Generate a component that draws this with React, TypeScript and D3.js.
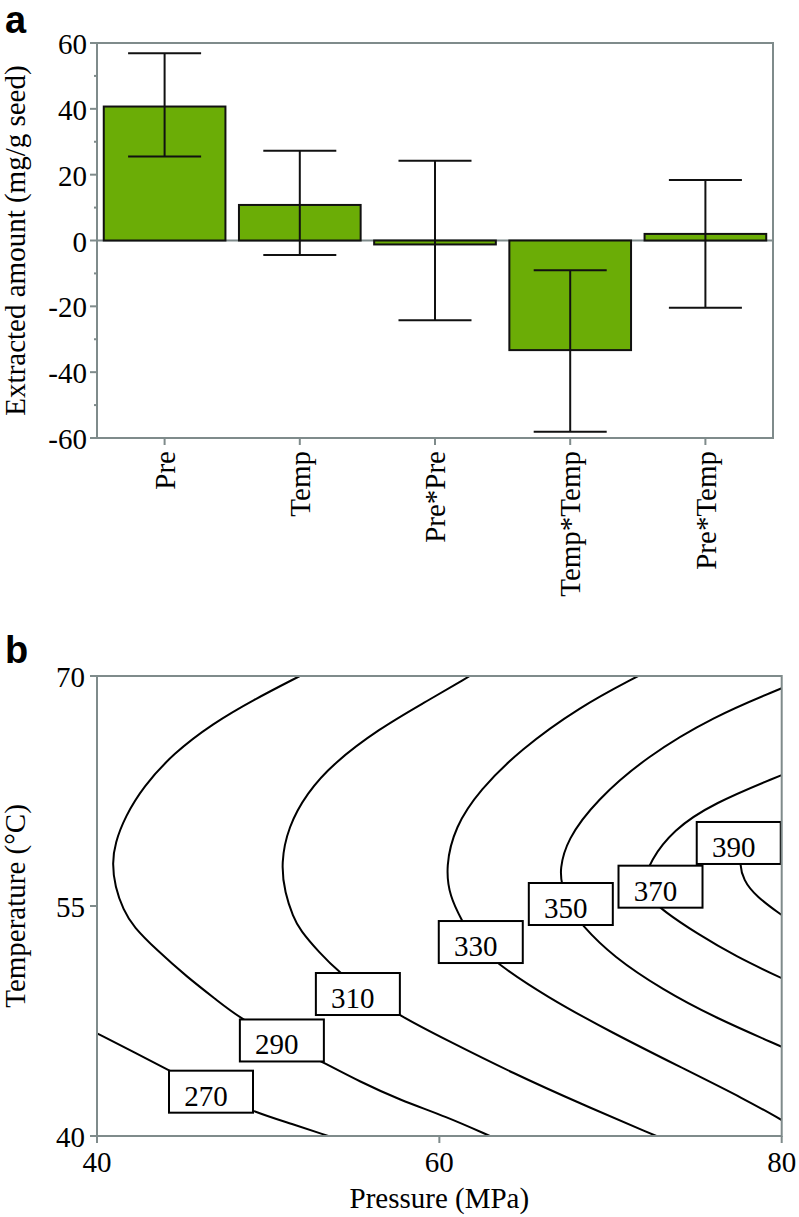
import React from "react";
import * as d3 from "d3";

// ---------- Panel a data ----------
const categories = ["Pre", "Temp", "Pre*Pre", "Temp*Temp", "Pre*Temp"];
const effects = [40.7, 10.8, -1.2, -33.3, 2.0];
const errLow = [25.5, -4.4, -24.2, -58.1, -20.4];
const errHigh = [56.9, 27.3, 24.2, -9.0, 18.4];
const yTicksA = [-60, -40, -20, 0, 20, 40, 60];
const yMinorA = [-50, -30, -10, 10, 30, 50];

// ---------- Panel b data (contour lines read as [Pressure, Temperature]) ----------
const contourLevels = [270, 290, 310, 330, 350, 370, 390];
const contour270: [number, number][] = [
  [40.0, 46.7], [42.12, 45.5], [44.26, 44.26], [46.6, 42.87], [49.13, 41.58], [51.27, 40.83], [53.51, 40.0],
];
const contour290: [number, number][] = [
  [51.85, 70.0], [49.13, 68.44], [46.79, 66.92], [44.46, 64.96], [42.7, 62.78], [41.64, 60.82], [41.05, 59.09],
  [40.89, 57.79], [41.05, 56.26], [41.54, 54.74], [42.12, 53.65], [43.49, 52.13], [45.24, 50.39], [46.99, 48.87],
  [48.35, 47.68], [50.98, 46.07], [53.2, 44.81], [55.36, 43.54], [57.69, 42.35], [60.42, 41.26], [62.95, 40.0],
];
const contour310: [number, number][] = [
  [61.78, 70.0], [59.05, 68.22], [56.53, 66.59], [53.8, 64.31], [52.25, 62.35], [51.17, 60.17], [50.74, 57.79],
  [50.98, 55.83], [51.46, 54.3], [51.85, 53.44], [53.02, 51.92], [54.09, 50.72], [55.94, 49.2], [57.59, 47.89],
  [60.42, 46.26], [64.31, 44.09], [68.2, 42.13], [72.68, 40.0],
];
const contour330: [number, number][] = [
  [71.61, 70.0], [68.2, 68.0], [64.7, 65.17], [62.36, 62.57], [60.91, 60.17], [60.36, 57.56], [60.61, 55.61],
  [61.3, 54.09], [62.07, 52.59], [63.34, 51.26], [66.26, 49.08], [70.15, 46.7], [74.04, 44.52], [77.94, 42.35],
  [80.0, 41.04],
];
const contour350: [number, number][] = [
  [80.0, 69.2], [75.99, 67.35], [72.1, 64.74], [69.18, 61.91], [67.43, 59.3], [67.04, 57.35], [67.14, 56.48],
  [67.5, 55.07], [68.3, 53.76], [70.15, 51.69], [73.07, 49.52], [75.99, 47.78], [80.0, 45.82],
];
const contour370: [number, number][] = [
  [80.0, 63.54], [75.99, 61.7], [73.65, 59.96], [72.29, 57.89], [72.0, 56.7], [72.29, 55.52], [73.07, 54.69],
  [75.02, 53.22], [77.35, 51.69], [80.0, 50.29],
];
const contour390: [number, number][] = [
  [80.0, 60.09], [78.42, 58.98], [77.66, 58.13], [77.55, 57.82], [77.74, 56.7], [78.52, 55.61], [80.0, 54.41],
];
const contourLines = [contour270, contour290, contour310, contour330, contour350, contour370, contour390];
const labelP = [46.66, 50.8, 55.24, 62.42, 67.68, 72.92, 77.49];
const labelT = [42.89, 46.23, 49.26, 52.65, 55.13, 56.26, 59.11];
const xTicksB = [40, 60, 80];
const yTicksB = [40, 55, 70];

const AXIS = "#7f8b8b";
const GREEN = "#6bad06";
const SERIF = "'Liberation Serif', 'Times New Roman', serif";
const SANS = "'Liberation Sans', Arial, sans-serif";

export default function App() {
  // Panel a scales
  const xA = d3.scaleBand<string>().domain(categories).range([97, 773]).paddingInner(0.1).paddingOuter(0.05);
  const yA = d3.scaleLinear().domain([-60, 60]).range([438, 43]);
  const bw = xA.bandwidth();
  const capHalf = bw * 0.3;

  // Panel b scales
  const xB = d3.scaleLinear().domain([40, 80]).range([97, 781.7]);
  const yB = d3.scaleLinear().domain([40, 70]).range([1136, 676]);
  const line = d3
    .line<[number, number]>()
    .x((d) => xB(d[0]))
    .y((d) => yB(d[1]))
    .curve(d3.curveBasis);

  const boxW = 84;
  const boxH = 42;

  return (
    <svg width={799} height={1217} style={{ position: "absolute", left: 0, top: 0, background: "#fff" }}>
      <defs>
        <clipPath id="clipB">
          <rect x={97} y={676} width={684.7} height={460} />
        </clipPath>
      </defs>

      {/* ===== Panel a ===== */}
      <text x={5} y={33} fontFamily={SANS} fontWeight="bold" fontSize={38}>a</text>

      {/* frame */}
      <rect x={97} y={43} width={676} height={395} fill="none" stroke={AXIS} strokeWidth={2} />
      {/* zero line */}
      <line x1={97} x2={773} y1={yA(0)} y2={yA(0)} stroke={AXIS} strokeWidth={2} />

      {/* y ticks */}
      {yTicksA.map((t) => (
        <g key={"ya" + t}>
          <line x1={90} x2={97} y1={yA(t)} y2={yA(t)} stroke={AXIS} strokeWidth={2} />
          <text x={87} y={yA(t)} dy="0.38em" textAnchor="end" fontFamily={SERIF} fontSize={29}>
            {t}
          </text>
        </g>
      ))}
      {yMinorA.map((t) => (
        <line key={"ym" + t} x1={94} x2={97} y1={yA(t)} y2={yA(t)} stroke={AXIS} strokeWidth={2} />
      ))}

      {/* bars */}
      {categories.map((c, i) => {
        const v = effects[i];
        const y0 = yA(Math.max(0, v));
        const y1 = yA(Math.min(0, v));
        return (
          <rect key={"bar" + c} x={xA(c)} y={y0} width={bw} height={y1 - y0} fill={GREEN} stroke="#111" strokeWidth={2} />
        );
      })}

      {/* error bars */}
      {categories.map((c, i) => {
        const cx = (xA(c) as number) + bw / 2;
        return (
          <g key={"err" + c} stroke="#111" strokeWidth={2}>
            <line x1={cx} x2={cx} y1={yA(errHigh[i])} y2={yA(errLow[i])} />
            <line x1={cx - capHalf} x2={cx + capHalf} y1={yA(errHigh[i])} y2={yA(errHigh[i])} />
            <line x1={cx - capHalf} x2={cx + capHalf} y1={yA(errLow[i])} y2={yA(errLow[i])} />
          </g>
        );
      })}

      {/* x ticks & labels */}
      {categories.map((c) => {
        const cx = (xA(c) as number) + bw / 2;
        return (
          <g key={"xa" + c}>
            <line x1={cx} x2={cx} y1={438} y2={445} stroke={AXIS} strokeWidth={2} />
            <text
              transform={`translate(${cx},451) rotate(-90)`}
              dy="0.35em"
              textAnchor="end"
              fontFamily={SERIF}
              fontSize={29}
            >
              {c}
            </text>
          </g>
        );
      })}

      {/* y title */}
      <text
        transform={`translate(25,${(43 + 438) / 2}) rotate(-90)`}
        textAnchor="middle"
        fontFamily={SERIF}
        fontSize={29}
      >
        Extracted amount (mg/g seed)
      </text>

      {/* ===== Panel b ===== */}
      <text x={5} y={663} fontFamily={SANS} fontWeight="bold" fontSize={38}>b</text>

      {/* contour lines */}
      <g clipPath="url(#clipB)">
        {contourLines.map((pts, i) => (
          <path key={"c" + contourLevels[i]} d={line(pts) || ""} fill="none" stroke="#000" strokeWidth={2} />
        ))}
      </g>

      {/* contour labels */}
      {contourLevels.map((lv, i) => {
        const cx = xB(labelP[i]);
        const cy = yB(labelT[i]);
        return (
          <g key={"lab" + lv}>
            <rect x={cx - boxW / 2} y={cy - boxH / 2} width={boxW} height={boxH} fill="#fff" stroke="#000" strokeWidth={2} />
            <text x={cx - 5} y={cy + 14} textAnchor="middle" fontFamily={SERIF} fontSize={29}>
              {lv}
            </text>
          </g>
        );
      })}

      {/* frame */}
      <rect x={97} y={676} width={684.7} height={460} fill="none" stroke={AXIS} strokeWidth={2} />

      {/* ticks */}
      {yTicksB.map((t) => (
        <g key={"yb" + t}>
          <line x1={90} x2={97} y1={yB(t)} y2={yB(t)} stroke={AXIS} strokeWidth={2} />
          <text x={85} y={yB(t)} dy="0.38em" textAnchor="end" fontFamily={SERIF} fontSize={29}>
            {t}
          </text>
        </g>
      ))}
      {xTicksB.map((t) => (
        <g key={"xb" + t}>
          <line x1={xB(t)} x2={xB(t)} y1={1136} y2={1143} stroke={AXIS} strokeWidth={2} />
          <text x={xB(t)} y={1172} textAnchor="middle" fontFamily={SERIF} fontSize={29}>
            {t}
          </text>
        </g>
      ))}

      {/* axis titles */}
      <text x={(97 + 781.7) / 2} y={1208} textAnchor="middle" fontFamily={SERIF} fontSize={29}>
        Pressure (MPa)
      </text>
      <text
        transform={`translate(25,${(676 + 1136) / 2}) rotate(-90)`}
        textAnchor="middle"
        fontFamily={SERIF}
        fontSize={29}
      >
        Temperature (°C)
      </text>
    </svg>
  );
}
